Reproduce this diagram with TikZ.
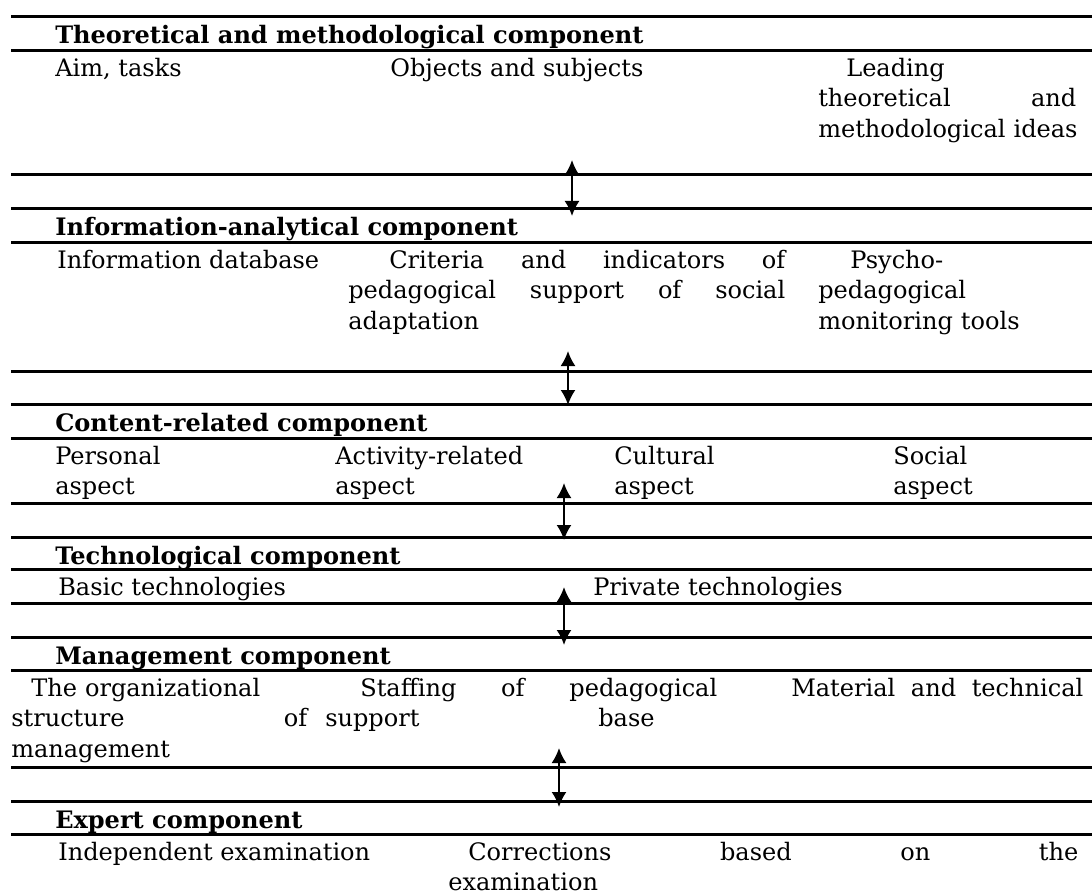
\documentclass[tikz,border=0pt]{standalone}
\usepackage{fontspec}
\setmainfont{DejaVu Serif}
\usetikzlibrary{arrows.meta}
\newlength\pxu
\setlength\pxu{0.025cm}
\tikzset{ %one unit = one pixel of the sheet
  {rule/.style} ={line width=0.075cm},
  {item/.style} ={anchor=base west, inner sep=0,
                  font=\fontsize{17.1pt}{21.7pt}\selectfont},
  {title/.style} ={item, font=\fontsize{17.1pt}{21.7pt}\selectfont\bfseries},
  {cell/.style} ={item, align=left, text width=#1},
  {link/.style} ={<->, line width=0.05cm},
  >={Latex[length=0.375cm,width=0.375cm]},
 }
\begin{document}
\begin{tikzpicture}[x=0.025cm,y=-0.025cm]
\useasboundingbox (0,0) rectangle (1092,895);
% rules
\foreach \y in {16,50,174,208,242,371,404,438,503,537,569,603,637,670,767,801,834}
  \draw[rule] (11,\y) -- (1092,\y);
% theoretical and methodological
\node[title] (tm) at (55,43) {Theoretical and methodological component};
\node[item] (aim) at (55,76) {Aim, tasks};
\node[item] (obj) at (390,76) {Objects and subjects};
\node[cell=258\pxu] (lead) at (818,76)
  {\hspace*{28\pxu}Leading\\theoretical\hfill and\\\mbox{methodological ideas}};
% information-analytical
\node[title] (ia) at (55,235) {Information-analytical component};
\node[item] (base) at (57,268) {Information database};
\node[cell=437\pxu] (crit) at (348,268)
  {\hspace*{41\pxu}Criteria\hfill and\hfill indicators\hfill of\\
   pedagogical\hfill support\hfill of\hfill social\\adaptation};
\node[cell=260\pxu] (tools) at (818,268)
  {\hspace*{32\pxu}Psycho-\\pedagogical\\monitoring tools};
% content-related
\node[title] (cr) at (55,431) {Content-related component};
\node[cell=200\pxu] (pers) at (55,464) {Personal\\aspect};
\node[cell=200\pxu] (act) at (335,464) {Activity-related\\aspect};
\node[cell=200\pxu] (cult) at (614,464) {Cultural\\aspect};
\node[cell=180\pxu] (soc) at (893,464) {Social\\aspect};
% technological
\node[title] (tc) at (55,564) {Technological component};
\node[item] (basic) at (58,595) {Basic technologies};
\node[item] (priv) at (593,595) {Private technologies};
% management
\node[title] (mc) at (55,664) {Management component};
\node[cell=296\pxu] (org) at (11,696)
  {\hspace*{20\pxu}The organizational\\structure\hfill of\\management};
\node[cell=392\pxu] (staff) at (325,696)
  {\hspace*{35\pxu}Staffing\hfill of\hfill pedagogical\\support};
\node[cell=292\pxu] (mat) at (791,696) {Material\hfill and\hfill technical};
\node[item] (mbase) at (598,726.5) {base};
% expert
\node[title] (ec) at (55,828) {Expert component};
\node[item] (indep) at (58,860) {Independent examination};
\node[cell=630\pxu] (corr) at (448,860)
  {\hspace*{20\pxu}Corrections\hfill based\hfill on\hfill the\\examination};
% links between components
\coordinate (l1a) at (572,160); \coordinate (l1b) at (572,216);
\coordinate (l2a) at (568,351); \coordinate (l2b) at (568,405);
\coordinate (l3a) at (564,483); \coordinate (l3b) at (564,540);
\coordinate (l4a) at (564,587); \coordinate (l4b) at (564,645);
\coordinate (l5a) at (559,748); \coordinate (l5b) at (559,807);
\foreach \i in {1,...,5}
  \draw[link] (l\i a) -- (l\i b);
\end{tikzpicture}
\end{document}
